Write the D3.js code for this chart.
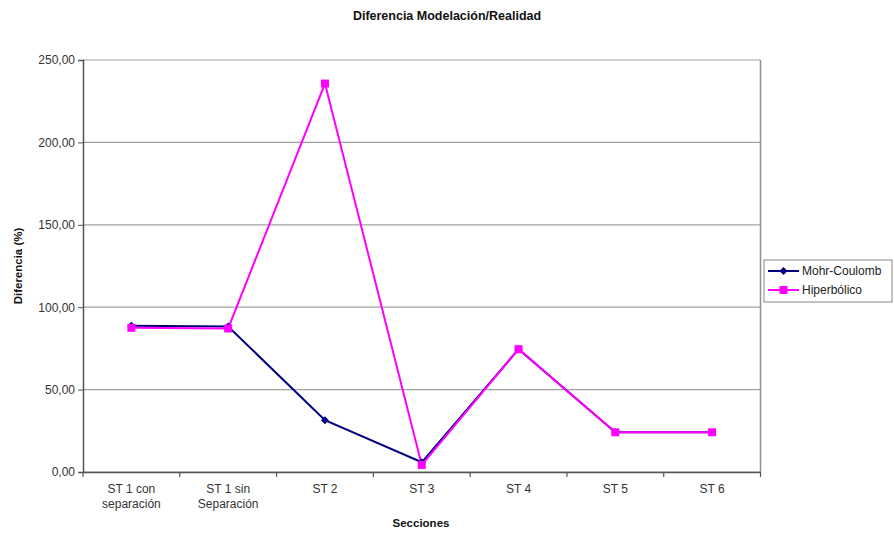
<!DOCTYPE html>
<html><head><meta charset="utf-8">
<script src="https://cdn.jsdelivr.net/npm/d3@7"></script>
<style>body{margin:0;background:#fff}svg{display:block}</style>
</head><body>
<svg id="c" width="894" height="533"></svg>
<script>
const categories = [["ST 1 con","separación"],["ST 1 sin","Separación"],["ST 2"],["ST 3"],["ST 4"],["ST 5"],["ST 6"]];
const mohrCoulomb = [88.7, 88.3, 31.4, 5.9, 74.5, 24.1, 24.1];
const hiperbolico = [87.5, 87.1, 235.7, 4.3, 74.5, 24.1, 24.1];
const yTicks = [0, 50, 100, 150, 200, 250];
const seriesNames = ["Mohr-Coulomb", "Hiperbólico"];
const seriesColors = ["#000080", "#FF00FF"];

const svg = d3.select("#c");
const L = 83, R = 760.5, T = 60, B = 472;
const x = d3.scaleBand().domain(d3.range(categories.length)).range([L, R]);
const y = d3.scaleLinear().domain([0, 250]).range([B, T]);
const fmt = d => d3.format(".2f")(d).replace(".", ",");
const diamond = "M0,-4L4,0L0,4L-4,0Z";

// gridlines
svg.append("g").selectAll("line").data(yTicks).join("line")
  .attr("x1", L).attr("x2", R).attr("y1", d => y(d)).attr("y2", d => y(d))
  .attr("stroke", "#a0a0a0").attr("stroke-width", 1.2);
// right border
svg.append("line").attr("x1", R).attr("x2", R).attr("y1", T).attr("y2", B)
  .attr("stroke", "#909090").attr("stroke-width", 1.5);

// y axis
const ya = svg.append("g").attr("transform", `translate(${L},0)`)
  .call(d3.axisLeft(y).tickValues(yTicks).tickFormat(fmt).tickSize(5).tickPadding(3));
ya.select(".domain").attr("stroke", "#555").attr("stroke-width", 1.5);
ya.selectAll(".tick line").attr("stroke", "#555");
ya.selectAll("text").attr("font-family", "Liberation Sans, Arial").attr("font-size", 12).attr("fill", "#333");

// x axis
const xa = svg.append("g").attr("transform", `translate(0,${B})`)
  .call(d3.axisBottom(x).tickFormat("").tickSize(0));
xa.select(".domain").attr("stroke", "#555").attr("stroke-width", 1.5);
xa.selectAll(".tick").remove();
svg.append("g").selectAll("line").data(d3.range(categories.length + 1)).join("line")
  .attr("x1", d => L + d * x.step()).attr("x2", d => L + d * x.step())
  .attr("y1", B).attr("y2", B + 5).attr("stroke", "#555").attr("stroke-width", 1.2);
const lbl = svg.append("g").selectAll("text").data(categories).join("text")
  .attr("x", (d, i) => x(i) + x.bandwidth() / 2).attr("y", B + 21)
  .attr("text-anchor", "middle").attr("font-family", "Liberation Sans, Arial")
  .attr("font-size", 12).attr("fill", "#333");
lbl.selectAll("tspan").data(d => d).join("tspan")
  .attr("x", function() { return this.parentNode.getAttribute("x"); })
  .attr("dy", (d, i) => i === 0 ? 0 : 15).text(d => d);

// lines
const line = d3.line().x((d, i) => x(i) + x.bandwidth() / 2).y(d => y(d));
const series = [mohrCoulomb, hiperbolico];
series.forEach((s, k) => {
  svg.append("path").datum(s).attr("d", line).attr("fill", "none")
    .attr("stroke", seriesColors[k]).attr("stroke-width", 2);
});
// markers
svg.append("g").selectAll("path").data(mohrCoulomb).join("path")
  .attr("transform", (d, i) => `translate(${x(i) + x.bandwidth() / 2},${y(d)})`)
  .attr("d", diamond).attr("fill", seriesColors[0]);
svg.append("g").selectAll("rect").data(hiperbolico).join("rect")
  .attr("x", (d, i) => x(i) + x.bandwidth() / 2 - 4).attr("y", d => y(d) - 4)
  .attr("width", 8).attr("height", 8).attr("fill", seriesColors[1]);

// titles
svg.append("text").attr("x", 447).attr("y", 20).attr("text-anchor", "middle")
  .attr("font-family", "Liberation Sans, Arial").attr("font-weight", "bold")
  .attr("font-size", 12.5).attr("fill", "#111").text("Diferencia Modelación/Realidad");
svg.append("text").attr("x", 421).attr("y", 527).attr("text-anchor", "middle")
  .attr("font-family", "Liberation Sans, Arial").attr("font-weight", "bold")
  .attr("font-size", 11.5).attr("fill", "#111").text("Secciones");
svg.append("text").attr("transform", "translate(22,266) rotate(-90)").attr("text-anchor", "middle")
  .attr("font-family", "Liberation Sans, Arial").attr("font-weight", "bold")
  .attr("font-size", 11.5).attr("fill", "#111").text("Diferencia (%)");

// legend
const lg = svg.append("g");
lg.append("rect").attr("x", 764).attr("y", 260).attr("width", 128).attr("height", 42)
  .attr("fill", "#fff").attr("stroke", "#888").attr("stroke-width", 1);
seriesNames.forEach((n, k) => {
  const yy = 271 + k * 19;
  lg.append("line").attr("x1", 768).attr("x2", 799).attr("y1", yy).attr("y2", yy)
    .attr("stroke", seriesColors[k]).attr("stroke-width", 2);
  if (k === 0) lg.append("path").attr("transform", `translate(783.5,${yy})`)
    .attr("d", diamond).attr("fill", seriesColors[0]);
  else lg.append("rect").attr("x", 779.5).attr("y", yy - 4).attr("width", 8).attr("height", 8)
    .attr("fill", seriesColors[1]);
  lg.append("text").attr("x", 802).attr("y", yy + 4).attr("font-family", "Liberation Sans, Arial")
    .attr("font-size", 12).attr("fill", "#222").text(n);
});
</script>
</body></html>
